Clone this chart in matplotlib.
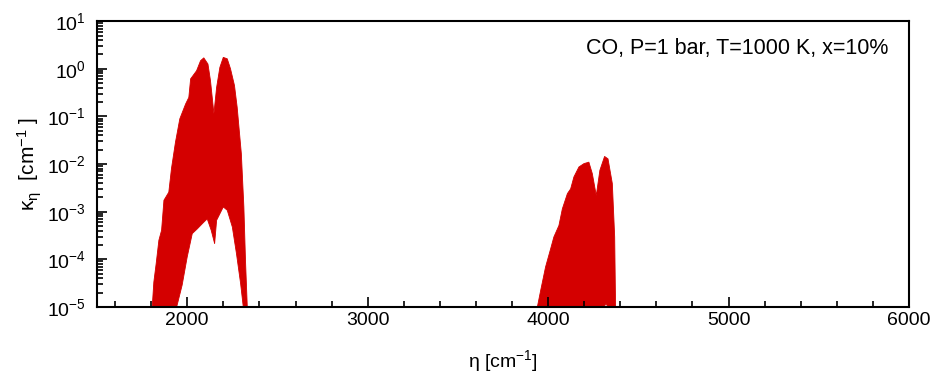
import numpy as np
import matplotlib
matplotlib.use('Agg')
import matplotlib.pyplot as plt
from matplotlib.ticker import MultipleLocator, LogLocator

plt.rcParams['font.family'] = ['Liberation Sans', 'DejaVu Sans']
plt.rcParams['mathtext.default'] = 'regular'

# fundamental band (1-0), upper / lower envelope of the line spectrum, log10(kappa)
b1_up_eta = [1800, 1803, 1812, 1825, 1840, 1855, 1868, 1895, 1910, 1932, 1956, 1988, 2006,
             2016, 2049, 2071, 2089, 2112, 2126, 2145, 2160, 2178, 2197, 2219, 2237,
             2259, 2274, 2297, 2311, 2320, 2330, 2333]
b1_up_log = [-5.5, -5.0, -4.47, -4.08, -3.59, -3.38, -2.75, -2.58, -2.08, -1.53, -1.04, -0.73, -0.59,
             -0.20, -0.03, 0.18, 0.24, 0.11, -0.24, -0.93, -0.38, 0.04, 0.25, 0.22, 0.01,
             -0.34, -0.80, -1.77, -2.89, -4.01, -4.99, -5.5]
b1_lo_eta = [1800, 1938, 1969, 1997, 2025, 2053, 2089, 2108, 2130, 2149, 2160, 2197,
             2219, 2247, 2270, 2293, 2308, 2333]
b1_lo_log = [-5.5, -5.0, -4.53, -3.94, -3.45, -3.35, -3.21, -3.14, -3.38, -3.66, -3.17, -2.89,
             -2.96, -3.31, -3.87, -4.50, -5.0, -5.5]

# first overtone (2-0)
b2_up_eta = [3930, 3937, 3956, 3983, 4011, 4029, 4057, 4076, 4104, 4122, 4140, 4168, 4196,
             4223, 4242, 4264, 4284, 4310, 4329, 4353, 4366, 4371, 4374]
b2_up_log = [-5.5, -5.0, -4.64, -4.15, -3.77, -3.52, -3.28, -2.93, -2.61, -2.51, -2.26, -2.05, -1.98,
             -1.95, -2.19, -2.65, -2.12, -1.83, -1.88, -2.40, -3.52, -5.0, -5.5]
b2_lo_eta = [3930, 4290, 4305, 4318, 4330, 4345, 4374]
b2_lo_log = [-5.5, -5.5, -5.0, -4.92, -5.0, -5.5, -5.5]

red = '#d40000'

fig = plt.figure(figsize=(9.42, 3.78), dpi=100)
ax = fig.add_axes([0.103, 0.188, 0.862, 0.756])

for up_x, up_y, lo_x, lo_y in [(b1_up_eta, b1_up_log, b1_lo_eta, b1_lo_log),
                               (b2_up_eta, b2_up_log, b2_lo_eta, b2_lo_log)]:
    grid = np.union1d(up_x, lo_x)
    upper = 10 ** np.interp(grid, up_x, up_y)
    lower = 10 ** np.interp(grid, lo_x, lo_y)
    ax.fill_between(grid, lower, upper, color=red, lw=0.6, edgecolor=red)

ax.set_yscale('log')
ax.set_xlim(1500, 6000)
ax.set_ylim(1e-5, 1e1)
ax.xaxis.set_major_locator(MultipleLocator(1000))
ax.xaxis.set_minor_locator(MultipleLocator(200))
ax.yaxis.set_major_locator(LogLocator(base=10, numticks=10))
ax.yaxis.set_minor_locator(LogLocator(base=10, subs=np.arange(2, 10), numticks=10))

ax.tick_params(which='both', direction='in', top=False, right=False, labelsize=14, width=1.2)
ax.tick_params(which='major', length=7)
ax.tick_params(which='minor', length=4)
ax.tick_params(axis='y', pad=8)
for s in ax.spines.values():
    s.set_linewidth(1.5)

ax.set_xlabel('η [cm$^{-1}$]', fontsize=14, labelpad=14)
ax.set_ylabel('κ$_{η}$  [cm$^{-1}$ ]', fontsize=15, labelpad=2)
ax.text(0.975, 0.906, 'CO, P=1 bar, T=1000 K, x=10%', transform=ax.transAxes,
        ha='right', va='center', fontsize=15.5)

fig.savefig('out.png', dpi=100)
